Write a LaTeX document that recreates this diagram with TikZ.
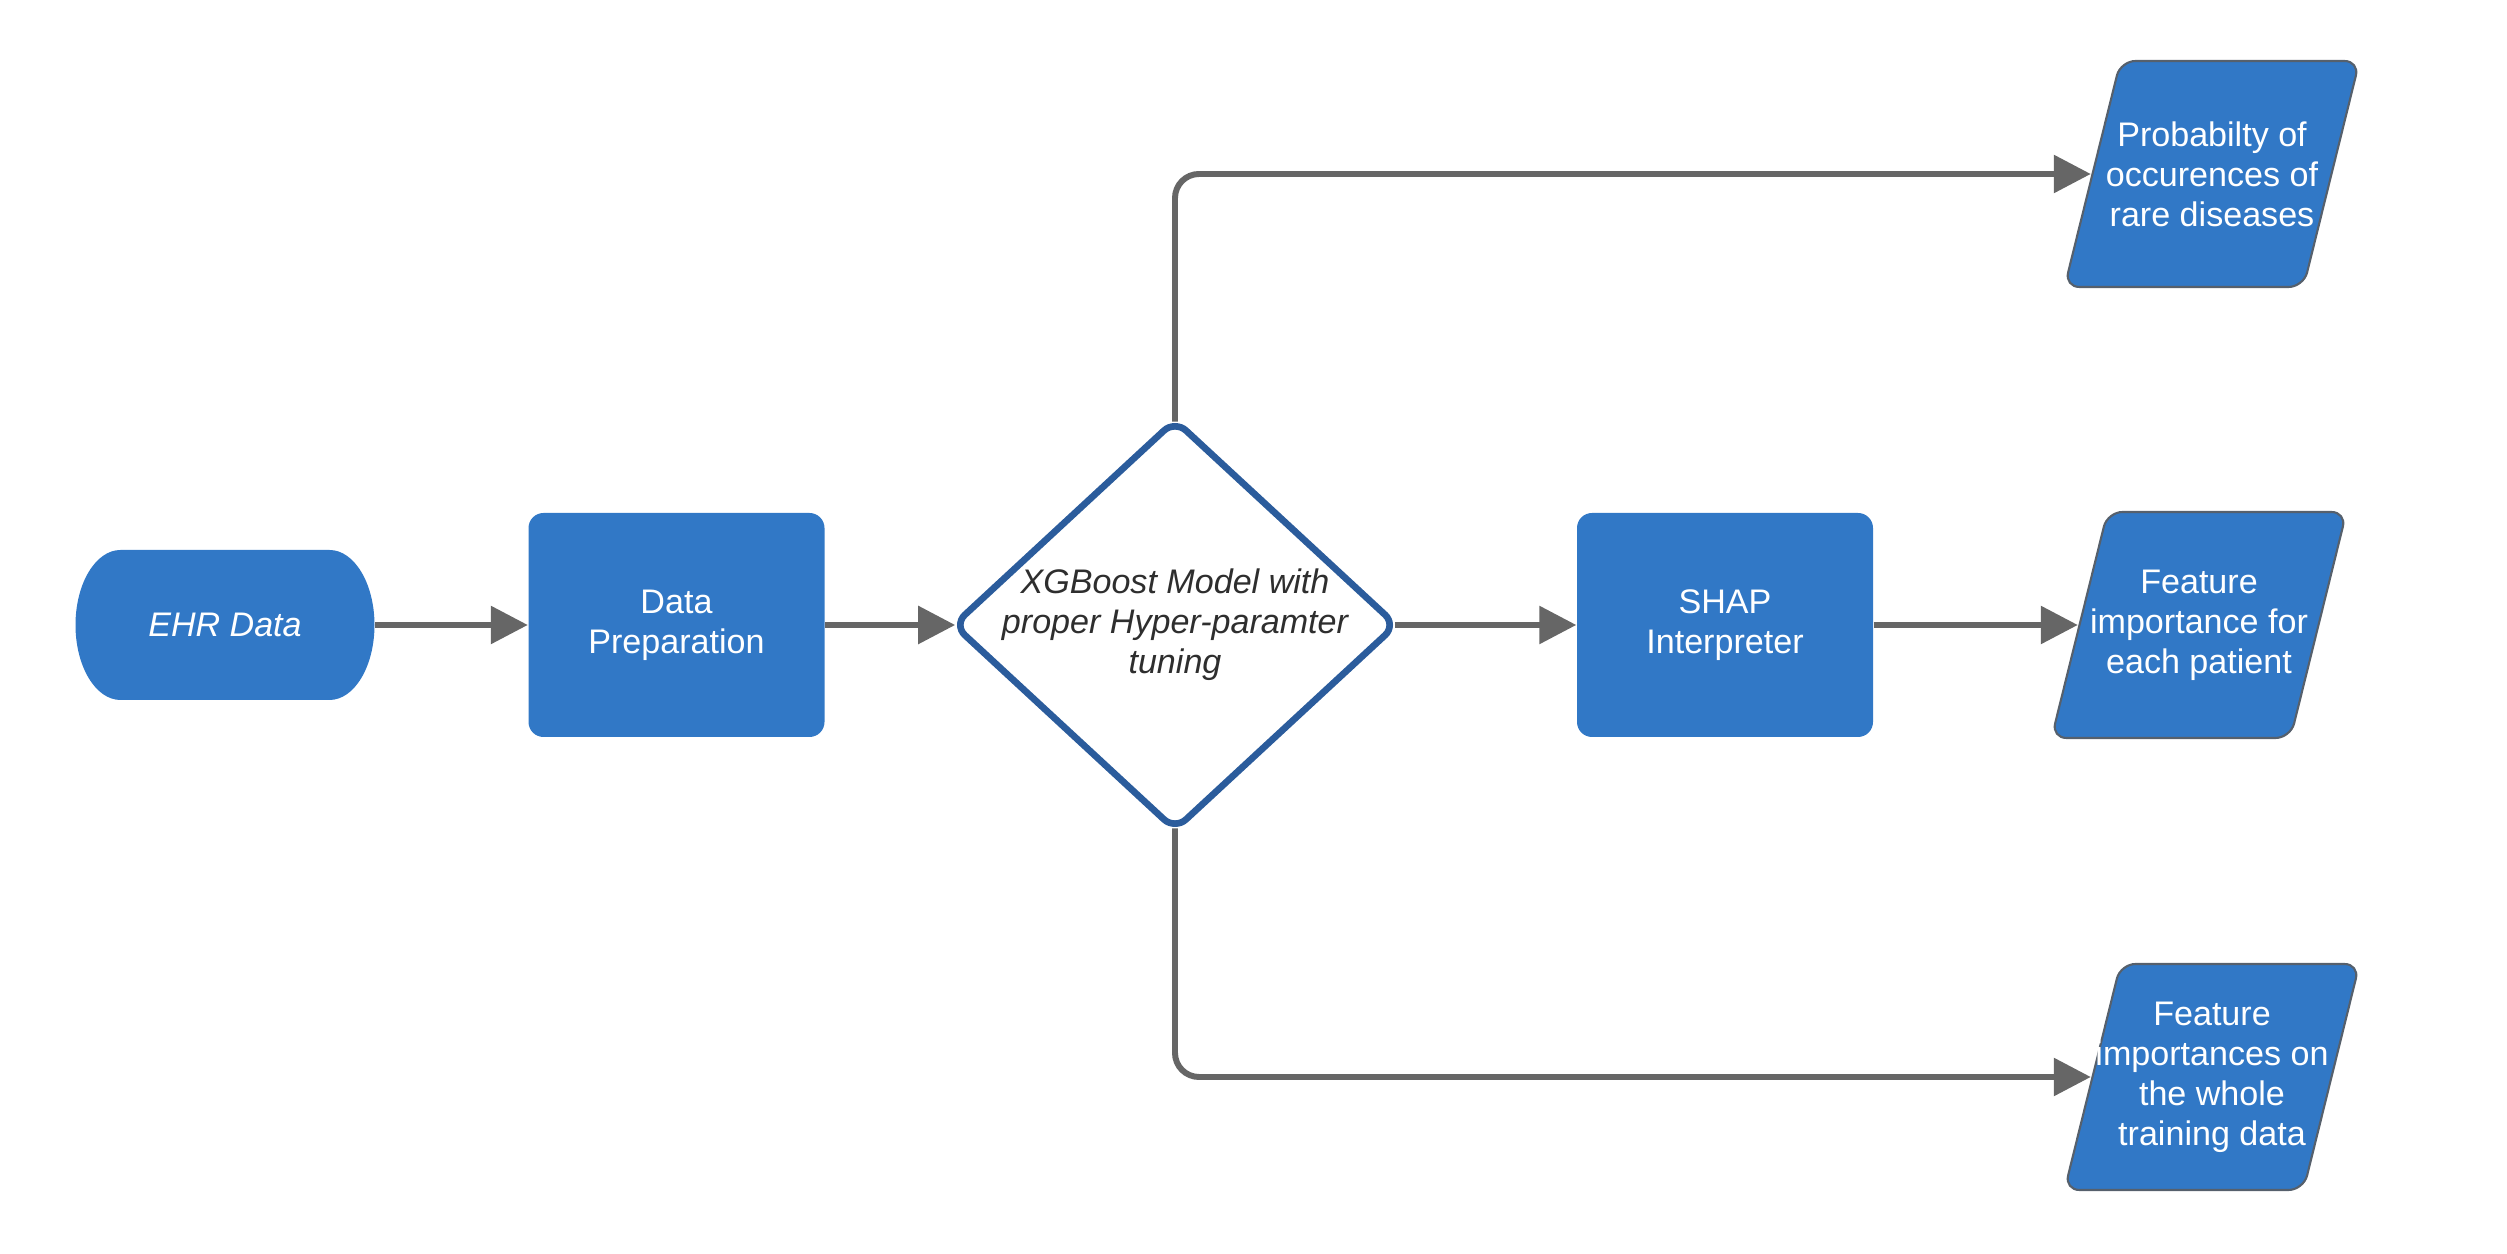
\documentclass[tikz,border=0pt]{standalone}
\usepackage{fontspec}
\setmainfont{Liberation Sans}
\usetikzlibrary{arrows.meta,shapes.geometric}
\definecolor{boxblue}{HTML}{3178C6}
\definecolor{rim}{HTML}{2B5C9C}
\definecolor{wire}{HTML}{666666}
\definecolor{ink}{HTML}{2E2E2E}
\definecolor{edge}{HTML}{56606C}

\begin{document}
\begin{tikzpicture}[x=1cm,y=1cm, text=white,
  font=\fontsize{9.7}{11.4}\selectfont,
  block/.style={rectangle, rounded corners=1.5mm, fill=boxblue, minimum width=2.96cm,
    minimum height=2.24cm, align=center, inner sep=0},
  terminal/.style={rectangle, minimum width=2.99cm, minimum height=1.5cm, inner sep=0,
    font=\fontsize{9.7}{11.4}\selectfont\itshape,
    path picture={\fill[boxblue] (path picture bounding box.north west) ++(0.45,0) -- ++(2.09,0)
      arc[start angle=90, end angle=-90, x radius=0.45, y radius=0.75] -- ++(-2.09,0)
      arc[start angle=270, end angle=90, x radius=0.45, y radius=0.75] -- cycle;}},
  choice/.style={diamond, draw=rim, line width=1.9pt, rounded corners=1.5mm, fill=white,
    text=ink, minimum width=4.45cm, minimum height=4.12cm, aspect=1.07, inner sep=-1mm,
    align=center, font=\fontsize{9.7}{11.4}\selectfont\itshape},
  % parallelogram: 2.95 wide overall, 0.56 slant, drawn inside a slightly larger box
  result/.style={rectangle, minimum width=3.01cm, minimum height=2.32cm, inner sep=0,
    align=center,
    path picture={\filldraw[fill=boxblue, draw=edge, line width=.6pt, rounded corners=1.5mm]
      (path picture bounding box.south west) ++(0.03,0.03) -- ++(2.39,0) -- ++(0.56,2.26)
      -- ++(-2.39,0) -- cycle;}},
  flow/.style={draw=wire, line width=1.7pt, -{Triangle[length=3.7mm,width=3.7mm]}}]
  \useasboundingbox (0,0) rectangle (25.07,-12.54);
  % main line: input -- preparation -- model -- explainer
  \node[terminal] (ehr) at (2.25,-6.25) {EHR Data};
  \node[block] (prep) at (6.765,-6.25) {Data\\Preparation};
  \node[choice] (xgb) at (11.75,-6.25) {XGBoost Model with\\proper Hyper-paramter\\tuning};
  \node[block] (shap) at (17.25,-6.25) {SHAP\\Interpreter};
  % outputs
  \node[result] (prob) at (22.12,-1.74) {Probabilty of\\occurences of\\rare diseases};
  \node[result] (patient) at (21.99,-6.25) {Feature\\importance for\\each patient};
  \node[result] (whole) at (22.12,-10.77) {Feature\\importances on\\the whole\\training data};
  % connectors
  \draw[flow] (ehr) -- (prep);
  \draw[flow, shorten >=-.6mm] (prep) -- (xgb.west);
  \draw[flow, shorten <=-.6mm] (xgb.east) -- (shap);
  \draw[flow] (shap) -- ([xshift=3mm]patient.west);
  \draw[flow, rounded corners=2.4mm, shorten <=-.6mm] (xgb.north) |- ([xshift=3mm]prob.west);
  \draw[flow, rounded corners=2.4mm, shorten <=-.6mm] (xgb.south) |- ([xshift=3mm]whole.west);
\end{tikzpicture}
\end{document}
